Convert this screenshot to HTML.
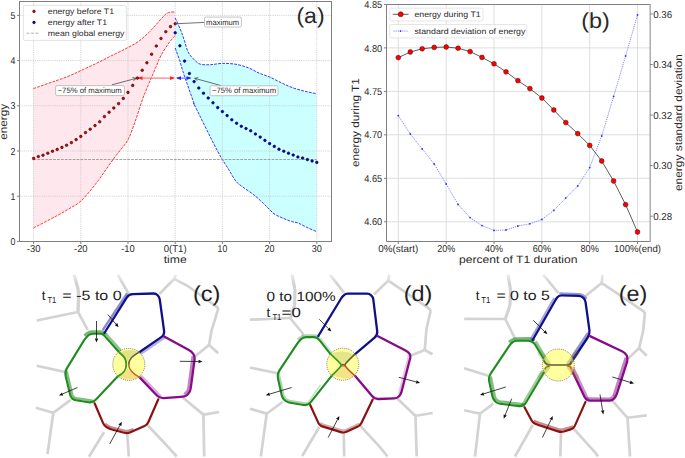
<!DOCTYPE html><html><head><meta charset="utf-8"><style>html,body{margin:0;padding:0;background:#fff;}svg{display:block;font-family:"Liberation Sans", sans-serif;text-rendering:geometricPrecision;}</style></head><body>
<svg width="685" height="458" viewBox="0 0 685 458">
<rect width="685" height="458" fill="#fff"/>
<path d="M33.40,88.60 C36.17,87.63 45.57,84.33 50.00,82.80 C54.43,81.27 56.67,80.60 60.00,79.40 C63.33,78.20 66.67,77.00 70.00,75.60 C73.33,74.20 75.78,72.95 80.00,71.00 C84.22,69.05 90.20,66.37 95.30,63.90 C100.40,61.43 105.50,58.75 110.60,56.20 C115.70,53.65 121.32,51.02 125.90,48.60 C130.48,46.18 134.28,44.38 138.10,41.70 C141.92,39.02 145.73,35.43 148.80,32.50 C151.87,29.57 153.95,26.90 156.50,24.10 C159.05,21.30 162.07,17.62 164.10,15.70 C166.13,13.78 166.85,13.23 168.70,12.60 C170.55,11.97 174.12,12.02 175.20,11.90 L175.20,35.50 C174.12,36.78 171.07,39.87 168.70,43.20 C166.33,46.53 162.95,51.95 161.00,55.50 C159.05,59.05 158.40,61.25 157.00,64.50 C155.60,67.75 154.27,71.08 152.60,75.00 C150.93,78.92 148.72,83.83 147.00,88.00 C145.28,92.17 144.13,94.83 142.30,100.00 C140.47,105.17 137.88,113.50 136.00,119.00 C134.12,124.50 132.55,129.17 131.00,133.00 C129.45,136.83 128.53,139.08 126.70,142.00 C124.87,144.92 122.20,147.67 120.00,150.50 C117.80,153.33 115.83,155.83 113.50,159.00 C111.17,162.17 108.42,166.08 106.00,169.50 C103.58,172.92 101.67,175.92 99.00,179.50 C96.33,183.08 93.20,187.25 90.00,191.00 C86.80,194.75 83.13,199.13 79.80,202.00 C76.47,204.87 73.30,206.20 70.00,208.20 C66.70,210.20 63.33,212.13 60.00,214.00 C56.67,215.87 54.43,217.07 50.00,219.40 C45.57,221.73 36.17,226.57 33.40,228.00 Z" fill="#ffe8ed"/>
<path d="M175.20,18.00 C176.10,20.00 179.10,26.33 180.60,30.00 C182.10,33.67 182.93,36.30 184.20,40.00 C185.47,43.70 186.53,48.92 188.20,52.20 C189.87,55.48 192.18,57.70 194.20,59.70 C196.22,61.70 197.60,63.37 200.30,64.20 C203.00,65.03 206.72,64.83 210.40,64.70 C214.08,64.57 218.13,63.47 222.40,63.40 C226.67,63.33 231.57,63.52 236.00,64.30 C240.43,65.08 245.13,66.62 249.00,68.10 C252.87,69.58 255.80,71.73 259.20,73.20 C262.60,74.67 265.75,75.32 269.40,76.90 C273.05,78.48 277.20,80.88 281.10,82.70 C285.00,84.52 288.67,86.33 292.80,87.80 C296.93,89.27 301.93,90.52 305.90,91.50 C309.87,92.48 314.82,93.33 316.60,93.70 L316.60,231.60 C314.83,230.83 309.10,228.43 306.00,227.00 C302.90,225.57 300.67,224.00 298.00,223.00 C295.33,222.00 293.67,222.33 290.00,221.00 C286.33,219.67 279.33,216.83 276.00,215.00 C272.67,213.17 272.00,211.83 270.00,210.00 C268.00,208.17 266.67,206.50 264.00,204.00 C261.33,201.50 258.00,198.17 254.00,195.00 C250.00,191.83 243.17,187.50 240.00,185.00 C236.83,182.50 236.83,182.50 235.00,180.00 C233.17,177.50 232.00,175.00 229.00,170.00 C226.00,165.00 222.67,160.67 217.00,150.00 C211.33,139.33 198.83,113.78 195.00,106.00 C191.17,98.22 195.80,108.42 194.00,103.30 C192.20,98.18 186.37,81.68 184.20,75.30 C182.03,68.92 181.77,67.52 181.00,65.00 C180.23,62.48 180.57,63.03 179.60,60.20 C178.63,57.37 175.93,50.03 175.20,48.00 Z" fill="#ccffff"/>
<line x1="33.6" y1="1.5" x2="33.6" y2="241.5" stroke="#c4c4c4" stroke-width="0.8" stroke-dasharray="1.1,1.1"/>
<line x1="80.8" y1="1.5" x2="80.8" y2="241.5" stroke="#c4c4c4" stroke-width="0.8" stroke-dasharray="1.1,1.1"/>
<line x1="128.0" y1="1.5" x2="128.0" y2="241.5" stroke="#c4c4c4" stroke-width="0.8" stroke-dasharray="1.1,1.1"/>
<line x1="175.2" y1="1.5" x2="175.2" y2="241.5" stroke="#c4c4c4" stroke-width="0.8" stroke-dasharray="1.1,1.1"/>
<line x1="222.4" y1="1.5" x2="222.4" y2="241.5" stroke="#c4c4c4" stroke-width="0.8" stroke-dasharray="1.1,1.1"/>
<line x1="269.6" y1="1.5" x2="269.6" y2="241.5" stroke="#c4c4c4" stroke-width="0.8" stroke-dasharray="1.1,1.1"/>
<line x1="316.8" y1="1.5" x2="316.8" y2="241.5" stroke="#c4c4c4" stroke-width="0.8" stroke-dasharray="1.1,1.1"/>
<line x1="19.5" y1="196.2" x2="331.5" y2="196.2" stroke="#c4c4c4" stroke-width="0.8" stroke-dasharray="1.1,1.1"/>
<line x1="19.5" y1="151.0" x2="331.5" y2="151.0" stroke="#c4c4c4" stroke-width="0.8" stroke-dasharray="1.1,1.1"/>
<line x1="19.5" y1="105.8" x2="331.5" y2="105.8" stroke="#c4c4c4" stroke-width="0.8" stroke-dasharray="1.1,1.1"/>
<line x1="19.5" y1="60.6" x2="331.5" y2="60.6" stroke="#c4c4c4" stroke-width="0.8" stroke-dasharray="1.1,1.1"/>
<line x1="19.5" y1="15.4" x2="331.5" y2="15.4" stroke="#c4c4c4" stroke-width="0.8" stroke-dasharray="1.1,1.1"/>
<path d="M33.40,88.60 C36.17,87.63 45.57,84.33 50.00,82.80 C54.43,81.27 56.67,80.60 60.00,79.40 C63.33,78.20 66.67,77.00 70.00,75.60 C73.33,74.20 75.78,72.95 80.00,71.00 C84.22,69.05 90.20,66.37 95.30,63.90 C100.40,61.43 105.50,58.75 110.60,56.20 C115.70,53.65 121.32,51.02 125.90,48.60 C130.48,46.18 134.28,44.38 138.10,41.70 C141.92,39.02 145.73,35.43 148.80,32.50 C151.87,29.57 153.95,26.90 156.50,24.10 C159.05,21.30 162.07,17.62 164.10,15.70 C166.13,13.78 166.85,13.23 168.70,12.60 C170.55,11.97 174.12,12.02 175.20,11.90" fill="none" stroke="#ff2020" stroke-width="0.9" stroke-dasharray="2.8,1.2"/>
<path d="M33.40,228.00 C36.17,226.57 45.57,221.73 50.00,219.40 C54.43,217.07 56.67,215.87 60.00,214.00 C63.33,212.13 66.70,210.20 70.00,208.20 C73.30,206.20 76.47,204.87 79.80,202.00 C83.13,199.13 86.80,194.75 90.00,191.00 C93.20,187.25 96.33,183.08 99.00,179.50 C101.67,175.92 103.58,172.92 106.00,169.50 C108.42,166.08 111.17,162.17 113.50,159.00 C115.83,155.83 117.80,153.33 120.00,150.50 C122.20,147.67 124.87,144.92 126.70,142.00 C128.53,139.08 129.45,136.83 131.00,133.00 C132.55,129.17 134.12,124.50 136.00,119.00 C137.88,113.50 140.47,105.17 142.30,100.00 C144.13,94.83 145.28,92.17 147.00,88.00 C148.72,83.83 150.93,78.92 152.60,75.00 C154.27,71.08 155.60,67.75 157.00,64.50 C158.40,61.25 159.05,59.05 161.00,55.50 C162.95,51.95 166.33,46.53 168.70,43.20 C171.07,39.87 174.12,36.78 175.20,35.50" fill="none" stroke="#ff2020" stroke-width="0.9" stroke-dasharray="2.8,1.2"/>
<path d="M175.20,18.00 C176.10,20.00 179.10,26.33 180.60,30.00 C182.10,33.67 182.93,36.30 184.20,40.00 C185.47,43.70 186.53,48.92 188.20,52.20 C189.87,55.48 192.18,57.70 194.20,59.70 C196.22,61.70 197.60,63.37 200.30,64.20 C203.00,65.03 206.72,64.83 210.40,64.70 C214.08,64.57 218.13,63.47 222.40,63.40 C226.67,63.33 231.57,63.52 236.00,64.30 C240.43,65.08 245.13,66.62 249.00,68.10 C252.87,69.58 255.80,71.73 259.20,73.20 C262.60,74.67 265.75,75.32 269.40,76.90 C273.05,78.48 277.20,80.88 281.10,82.70 C285.00,84.52 288.67,86.33 292.80,87.80 C296.93,89.27 301.93,90.52 305.90,91.50 C309.87,92.48 314.82,93.33 316.60,93.70" fill="none" stroke="#2020ff" stroke-width="0.9" stroke-dasharray="2.8,1.2"/>
<path d="M175.20,48.00 C175.93,50.03 178.63,57.37 179.60,60.20 C180.57,63.03 180.23,62.48 181.00,65.00 C181.77,67.52 182.03,68.92 184.20,75.30 C186.37,81.68 192.20,98.18 194.00,103.30 C195.80,108.42 191.17,98.22 195.00,106.00 C198.83,113.78 211.33,139.33 217.00,150.00 C222.67,160.67 226.00,165.00 229.00,170.00 C232.00,175.00 233.17,177.50 235.00,180.00 C236.83,182.50 236.83,182.50 240.00,185.00 C243.17,187.50 250.00,191.83 254.00,195.00 C258.00,198.17 261.33,201.50 264.00,204.00 C266.67,206.50 268.00,208.17 270.00,210.00 C272.00,211.83 272.67,213.17 276.00,215.00 C279.33,216.83 286.33,219.67 290.00,221.00 C293.67,222.33 295.33,222.00 298.00,223.00 C300.67,224.00 302.90,225.57 306.00,227.00 C309.10,228.43 314.83,230.83 316.60,231.60" fill="none" stroke="#2020ff" stroke-width="0.9" stroke-dasharray="2.8,1.2"/>
<line x1="33.6" y1="159.5" x2="316.8" y2="159.5" stroke="#999" stroke-width="0.9" stroke-dasharray="2.8,1.1"/>
<line x1="139" y1="78.1" x2="174" y2="78.1" stroke="#ff8080" stroke-width="1.3"/>
<polygon points="137.6,78.1 142.5,76.3 142.5,79.9" fill="#ff2020"/>
<polygon points="175,78.1 170,76.3 170,79.9" fill="#ff2020"/>
<line x1="177" y1="78.1" x2="190.5" y2="78.1" stroke="#8080ff" stroke-width="1.3"/>
<polygon points="176,78.1 181,76.3 181,79.9" fill="#2020ff"/>
<polygon points="191.5,78.1 186.5,76.3 186.5,79.9" fill="#2020ff"/>
<circle cx="33.6" cy="158.4" r="1.3" fill="#e00000" stroke="#200" stroke-width="0.6"/>
<circle cx="38.3" cy="156.6" r="1.3" fill="#e00000" stroke="#200" stroke-width="0.6"/>
<circle cx="43.0" cy="155.2" r="1.3" fill="#e00000" stroke="#200" stroke-width="0.6"/>
<circle cx="47.8" cy="153.2" r="1.3" fill="#e00000" stroke="#200" stroke-width="0.6"/>
<circle cx="52.5" cy="151.2" r="1.3" fill="#e00000" stroke="#200" stroke-width="0.6"/>
<circle cx="57.2" cy="149.4" r="1.3" fill="#e00000" stroke="#200" stroke-width="0.6"/>
<circle cx="61.9" cy="147.4" r="1.3" fill="#e00000" stroke="#200" stroke-width="0.6"/>
<circle cx="66.6" cy="145.2" r="1.3" fill="#e00000" stroke="#200" stroke-width="0.6"/>
<circle cx="71.4" cy="142.6" r="1.3" fill="#e00000" stroke="#200" stroke-width="0.6"/>
<circle cx="76.1" cy="139.6" r="1.3" fill="#e00000" stroke="#200" stroke-width="0.6"/>
<circle cx="80.8" cy="136.4" r="1.3" fill="#e00000" stroke="#200" stroke-width="0.6"/>
<circle cx="85.5" cy="132.6" r="1.3" fill="#e00000" stroke="#200" stroke-width="0.6"/>
<circle cx="90.2" cy="129.2" r="1.3" fill="#e00000" stroke="#200" stroke-width="0.6"/>
<circle cx="95.0" cy="125.6" r="1.3" fill="#e00000" stroke="#200" stroke-width="0.6"/>
<circle cx="99.7" cy="121.8" r="1.3" fill="#e00000" stroke="#200" stroke-width="0.6"/>
<circle cx="104.4" cy="116.6" r="1.3" fill="#e00000" stroke="#200" stroke-width="0.6"/>
<circle cx="109.1" cy="112.2" r="1.3" fill="#e00000" stroke="#200" stroke-width="0.6"/>
<circle cx="113.8" cy="108" r="1.3" fill="#e00000" stroke="#200" stroke-width="0.6"/>
<circle cx="118.6" cy="103.6" r="1.3" fill="#e00000" stroke="#200" stroke-width="0.6"/>
<circle cx="123.3" cy="98.4" r="1.3" fill="#e00000" stroke="#200" stroke-width="0.6"/>
<circle cx="128.0" cy="92.4" r="1.3" fill="#e00000" stroke="#200" stroke-width="0.6"/>
<circle cx="132.7" cy="85.4" r="1.3" fill="#e00000" stroke="#200" stroke-width="0.6"/>
<circle cx="137.4" cy="78.1" r="1.3" fill="#e00000" stroke="#200" stroke-width="0.6"/>
<circle cx="142.2" cy="70.3" r="1.3" fill="#e00000" stroke="#200" stroke-width="0.6"/>
<circle cx="146.9" cy="62.8" r="1.3" fill="#e00000" stroke="#200" stroke-width="0.6"/>
<circle cx="151.6" cy="54.2" r="1.3" fill="#e00000" stroke="#200" stroke-width="0.6"/>
<circle cx="156.3" cy="46" r="1.3" fill="#e00000" stroke="#200" stroke-width="0.6"/>
<circle cx="161.0" cy="38.5" r="1.3" fill="#e00000" stroke="#200" stroke-width="0.6"/>
<circle cx="165.8" cy="31.7" r="1.3" fill="#e00000" stroke="#200" stroke-width="0.6"/>
<circle cx="170.5" cy="26.6" r="1.3" fill="#e00000" stroke="#200" stroke-width="0.6"/>
<circle cx="175.2" cy="23.8" r="1.3" fill="#e00000" stroke="#200" stroke-width="0.6"/>
<circle cx="175.2" cy="32.8" r="1.3" fill="#0000e0" stroke="#002" stroke-width="0.6"/>
<circle cx="179.9" cy="45.8" r="1.3" fill="#0000e0" stroke="#002" stroke-width="0.6"/>
<circle cx="184.6" cy="61.1" r="1.3" fill="#0000e0" stroke="#002" stroke-width="0.6"/>
<circle cx="189.4" cy="73.5" r="1.3" fill="#0000e0" stroke="#002" stroke-width="0.6"/>
<circle cx="194.1" cy="81.6" r="1.3" fill="#0000e0" stroke="#002" stroke-width="0.6"/>
<circle cx="198.8" cy="88" r="1.3" fill="#0000e0" stroke="#002" stroke-width="0.6"/>
<circle cx="203.5" cy="93.2" r="1.3" fill="#0000e0" stroke="#002" stroke-width="0.6"/>
<circle cx="208.2" cy="98" r="1.3" fill="#0000e0" stroke="#002" stroke-width="0.6"/>
<circle cx="213.0" cy="102.8" r="1.3" fill="#0000e0" stroke="#002" stroke-width="0.6"/>
<circle cx="217.7" cy="107.6" r="1.3" fill="#0000e0" stroke="#002" stroke-width="0.6"/>
<circle cx="222.4" cy="111.6" r="1.3" fill="#0000e0" stroke="#002" stroke-width="0.6"/>
<circle cx="227.1" cy="115.6" r="1.3" fill="#0000e0" stroke="#002" stroke-width="0.6"/>
<circle cx="231.8" cy="119.8" r="1.3" fill="#0000e0" stroke="#002" stroke-width="0.6"/>
<circle cx="236.6" cy="123.2" r="1.3" fill="#0000e0" stroke="#002" stroke-width="0.6"/>
<circle cx="241.3" cy="126.3" r="1.3" fill="#0000e0" stroke="#002" stroke-width="0.6"/>
<circle cx="246.0" cy="128.5" r="1.3" fill="#0000e0" stroke="#002" stroke-width="0.6"/>
<circle cx="250.7" cy="130.8" r="1.3" fill="#0000e0" stroke="#002" stroke-width="0.6"/>
<circle cx="255.4" cy="134" r="1.3" fill="#0000e0" stroke="#002" stroke-width="0.6"/>
<circle cx="260.2" cy="137.1" r="1.3" fill="#0000e0" stroke="#002" stroke-width="0.6"/>
<circle cx="264.9" cy="140.4" r="1.3" fill="#0000e0" stroke="#002" stroke-width="0.6"/>
<circle cx="269.6" cy="143.6" r="1.3" fill="#0000e0" stroke="#002" stroke-width="0.6"/>
<circle cx="274.3" cy="146.4" r="1.3" fill="#0000e0" stroke="#002" stroke-width="0.6"/>
<circle cx="279.0" cy="149.2" r="1.3" fill="#0000e0" stroke="#002" stroke-width="0.6"/>
<circle cx="283.8" cy="151.2" r="1.3" fill="#0000e0" stroke="#002" stroke-width="0.6"/>
<circle cx="288.5" cy="153.2" r="1.3" fill="#0000e0" stroke="#002" stroke-width="0.6"/>
<circle cx="293.2" cy="155" r="1.3" fill="#0000e0" stroke="#002" stroke-width="0.6"/>
<circle cx="297.9" cy="157" r="1.3" fill="#0000e0" stroke="#002" stroke-width="0.6"/>
<circle cx="302.6" cy="158" r="1.3" fill="#0000e0" stroke="#002" stroke-width="0.6"/>
<circle cx="307.4" cy="159.6" r="1.3" fill="#0000e0" stroke="#002" stroke-width="0.6"/>
<circle cx="312.1" cy="161" r="1.3" fill="#0000e0" stroke="#002" stroke-width="0.6"/>
<circle cx="316.8" cy="162.4" r="1.3" fill="#0000e0" stroke="#002" stroke-width="0.6"/>
<rect x="19.5" y="1.5" width="312.0" height="240.0" fill="none" stroke="#808080" stroke-width="1"/>
<line x1="33.6" y1="241.5" x2="33.6" y2="244.0" stroke="#808080" stroke-width="1"/>
<line x1="80.8" y1="241.5" x2="80.8" y2="244.0" stroke="#808080" stroke-width="1"/>
<line x1="128.0" y1="241.5" x2="128.0" y2="244.0" stroke="#808080" stroke-width="1"/>
<line x1="175.2" y1="241.5" x2="175.2" y2="244.0" stroke="#808080" stroke-width="1"/>
<line x1="222.4" y1="241.5" x2="222.4" y2="244.0" stroke="#808080" stroke-width="1"/>
<line x1="269.6" y1="241.5" x2="269.6" y2="244.0" stroke="#808080" stroke-width="1"/>
<line x1="316.8" y1="241.5" x2="316.8" y2="244.0" stroke="#808080" stroke-width="1"/>
<line x1="17.0" y1="241.4" x2="19.5" y2="241.4" stroke="#808080" stroke-width="1"/>
<line x1="17.0" y1="196.2" x2="19.5" y2="196.2" stroke="#808080" stroke-width="1"/>
<line x1="17.0" y1="151.0" x2="19.5" y2="151.0" stroke="#808080" stroke-width="1"/>
<line x1="17.0" y1="105.8" x2="19.5" y2="105.8" stroke="#808080" stroke-width="1"/>
<line x1="17.0" y1="60.6" x2="19.5" y2="60.6" stroke="#808080" stroke-width="1"/>
<line x1="17.0" y1="15.4" x2="19.5" y2="15.4" stroke="#808080" stroke-width="1"/>
<text x="33.6" y="251.6" font-size="10.0" text-anchor="middle" fill="#2a2a2a" textLength="13.6" lengthAdjust="spacingAndGlyphs" >-30</text>
<text x="80.8" y="251.6" font-size="10.0" text-anchor="middle" fill="#2a2a2a" textLength="13.6" lengthAdjust="spacingAndGlyphs" >-20</text>
<text x="128.0" y="251.6" font-size="10.0" text-anchor="middle" fill="#2a2a2a" textLength="13.6" lengthAdjust="spacingAndGlyphs" >-10</text>
<text x="175.2" y="251.6" font-size="10.0" text-anchor="middle" fill="#2a2a2a" textLength="22.8" lengthAdjust="spacingAndGlyphs" >0(T1)</text>
<text x="222.4" y="251.6" font-size="10.0" text-anchor="middle" fill="#2a2a2a" textLength="9.6" lengthAdjust="spacingAndGlyphs" >10</text>
<text x="269.6" y="251.6" font-size="10.0" text-anchor="middle" fill="#2a2a2a" textLength="10" lengthAdjust="spacingAndGlyphs" >20</text>
<text x="316.8" y="251.6" font-size="10.0" text-anchor="middle" fill="#2a2a2a" textLength="10.2" lengthAdjust="spacingAndGlyphs" >30</text>
<text x="15.4" y="245.0" font-size="10.0" text-anchor="end" fill="#2a2a2a" textLength="4.9" lengthAdjust="spacingAndGlyphs" >0</text>
<text x="15.4" y="199.8" font-size="10.0" text-anchor="end" fill="#2a2a2a" textLength="4.9" lengthAdjust="spacingAndGlyphs" >1</text>
<text x="15.4" y="154.6" font-size="10.0" text-anchor="end" fill="#2a2a2a" textLength="4.9" lengthAdjust="spacingAndGlyphs" >2</text>
<text x="15.4" y="109.4" font-size="10.0" text-anchor="end" fill="#2a2a2a" textLength="4.9" lengthAdjust="spacingAndGlyphs" >3</text>
<text x="15.4" y="64.2" font-size="10.0" text-anchor="end" fill="#2a2a2a" textLength="4.9" lengthAdjust="spacingAndGlyphs" >4</text>
<text x="15.4" y="19.0" font-size="10.0" text-anchor="end" fill="#2a2a2a" textLength="4.9" lengthAdjust="spacingAndGlyphs" >5</text>
<text x="175.2" y="263.2" font-size="10.5" text-anchor="middle" fill="#2a2a2a" textLength="23" lengthAdjust="spacingAndGlyphs" >time</text>
<text transform="translate(7,121.8) rotate(-90)" font-size="10.5" text-anchor="middle" fill="#2a2a2a" textLength="36" lengthAdjust="spacingAndGlyphs">energy</text>
<rect x="23.4" y="5.4" width="103" height="35" rx="1.5" fill="#fff" fill-opacity="0.8" stroke="#dcdcdc" stroke-width="0.8"/>
<circle cx="34" cy="11.4" r="1.35" fill="#d00000" stroke="#200" stroke-width="0.5"/>
<circle cx="34" cy="22.4" r="1.35" fill="#0000d0" stroke="#002" stroke-width="0.5"/>
<line x1="26.4" y1="33.2" x2="40" y2="33.2" stroke="#a0a0a0" stroke-width="0.8" stroke-dasharray="3,1.5"/>
<text x="47.8" y="14.4" font-size="7.9" text-anchor="start" fill="#2a2a2a" textLength="66.2" lengthAdjust="spacingAndGlyphs" >energy before T1</text>
<text x="47.8" y="25.4" font-size="7.9" text-anchor="start" fill="#2a2a2a" textLength="59.3" lengthAdjust="spacingAndGlyphs" >energy after T1</text>
<text x="47.8" y="36.3" font-size="7.9" text-anchor="start" fill="#2a2a2a" textLength="76.6" lengthAdjust="spacingAndGlyphs" >mean global energy</text>
<line x1="177.3" y1="23.7" x2="204.5" y2="22.4" stroke="#333" stroke-width="0.7"/>
<rect x="204.5" y="17.1" width="36.9" height="9.9" rx="1.5" fill="#fff" stroke="#aaa" stroke-width="0.7"/>
<text x="222.6" y="24.6" font-size="7.8" text-anchor="middle" fill="#2a2a2a" textLength="33" lengthAdjust="spacingAndGlyphs" >maximum</text>
<line x1="111.9" y1="84.8" x2="136" y2="78.4" stroke="#333" stroke-width="0.7"/>
<path d="M132.5,77.6 L136.6,78.3 L133.4,80.6" fill="none" stroke="#333" stroke-width="0.7"/>
<rect x="55.6" y="85.6" width="68.8" height="10" rx="1.5" fill="#fff" stroke="#aaa" stroke-width="0.7"/>
<text x="89.7" y="92.9" font-size="7.8" text-anchor="middle" fill="#2a2a2a" textLength="64.2" lengthAdjust="spacingAndGlyphs" >~75% of maximum</text>
<line x1="195" y1="78.4" x2="221" y2="85.6" stroke="#333" stroke-width="0.7"/>
<path d="M198.3,77.7 L194.6,78.3 L197.4,80.6" fill="none" stroke="#333" stroke-width="0.7"/>
<rect x="210" y="85.8" width="68" height="9.9" rx="1.5" fill="#fff" stroke="#aaa" stroke-width="0.7"/>
<text x="244" y="93.1" font-size="7.8" text-anchor="middle" fill="#2a2a2a" textLength="64.2" lengthAdjust="spacingAndGlyphs" >~75% of maximum</text>
<text x="296.4" y="22.6" font-size="21.6" text-anchor="start" fill="#2a2a2a" textLength="28.2" lengthAdjust="spacingAndGlyphs" >(a)</text>
<line x1="398.3" y1="4.5" x2="398.3" y2="241.5" stroke="#dadada" stroke-width="0.9"/>
<line x1="446.2" y1="4.5" x2="446.2" y2="241.5" stroke="#dadada" stroke-width="0.9"/>
<line x1="494.0" y1="4.5" x2="494.0" y2="241.5" stroke="#dadada" stroke-width="0.9"/>
<line x1="541.9" y1="4.5" x2="541.9" y2="241.5" stroke="#dadada" stroke-width="0.9"/>
<line x1="589.7" y1="4.5" x2="589.7" y2="241.5" stroke="#dadada" stroke-width="0.9"/>
<line x1="637.5" y1="4.5" x2="637.5" y2="241.5" stroke="#dadada" stroke-width="0.9"/>
<line x1="386.5" y1="47.9" x2="650.2" y2="47.9" stroke="#dadada" stroke-width="0.9"/>
<line x1="386.5" y1="91.4" x2="650.2" y2="91.4" stroke="#dadada" stroke-width="0.9"/>
<line x1="386.5" y1="134.8" x2="650.2" y2="134.8" stroke="#dadada" stroke-width="0.9"/>
<line x1="386.5" y1="178.3" x2="650.2" y2="178.3" stroke="#dadada" stroke-width="0.9"/>
<line x1="386.5" y1="221.8" x2="650.2" y2="221.8" stroke="#dadada" stroke-width="0.9"/>
<polyline points="398.3,115.6 410.3,134.0 422.2,149.0 434.2,164.0 446.2,184.0 458.1,204.4 470.1,217.6 482.0,225.6 494.0,230.4 506.0,230.0 517.9,226.0 529.9,223.8 541.9,219.4 553.8,210.4 565.8,198.0 577.7,186.0 589.7,167.6 601.7,136.0 613.6,96.5 625.6,56.0 637.5,15.0" fill="none" stroke="#5050ff" stroke-width="0.7" stroke-dasharray="1.2,1"/>
<circle cx="398.3" cy="115.6" r="0.9" fill="#3030ff"/>
<circle cx="410.3" cy="134" r="0.9" fill="#3030ff"/>
<circle cx="422.2" cy="149" r="0.9" fill="#3030ff"/>
<circle cx="434.2" cy="164" r="0.9" fill="#3030ff"/>
<circle cx="446.2" cy="184" r="0.9" fill="#3030ff"/>
<circle cx="458.1" cy="204.4" r="0.9" fill="#3030ff"/>
<circle cx="470.1" cy="217.6" r="0.9" fill="#3030ff"/>
<circle cx="482.0" cy="225.6" r="0.9" fill="#3030ff"/>
<circle cx="494.0" cy="230.4" r="0.9" fill="#3030ff"/>
<circle cx="506.0" cy="230" r="0.9" fill="#3030ff"/>
<circle cx="517.9" cy="226" r="0.9" fill="#3030ff"/>
<circle cx="529.9" cy="223.8" r="0.9" fill="#3030ff"/>
<circle cx="541.9" cy="219.4" r="0.9" fill="#3030ff"/>
<circle cx="553.8" cy="210.4" r="0.9" fill="#3030ff"/>
<circle cx="565.8" cy="198" r="0.9" fill="#3030ff"/>
<circle cx="577.7" cy="186" r="0.9" fill="#3030ff"/>
<circle cx="589.7" cy="167.6" r="0.9" fill="#3030ff"/>
<circle cx="601.7" cy="136" r="0.9" fill="#3030ff"/>
<circle cx="613.6" cy="96.5" r="0.9" fill="#3030ff"/>
<circle cx="625.6" cy="56" r="0.9" fill="#3030ff"/>
<circle cx="637.5" cy="15" r="0.9" fill="#3030ff"/>
<polyline points="398.3,57.6 410.3,52.0 422.2,48.8 434.2,47.4 446.2,47.0 458.1,48.2 470.1,51.6 482.0,57.4 494.0,63.8 506.0,71.8 517.9,80.7 529.9,88.6 541.9,98.0 553.8,110.0 565.8,122.6 577.7,133.6 589.7,145.4 601.7,161.0 613.6,181.0 625.6,204.6 637.5,232.0" fill="none" stroke="#333" stroke-width="0.8"/>
<circle cx="398.3" cy="57.6" r="2.4" fill="#ff0000" stroke="#400" stroke-width="0.5"/>
<circle cx="410.3" cy="52" r="2.4" fill="#ff0000" stroke="#400" stroke-width="0.5"/>
<circle cx="422.2" cy="48.8" r="2.4" fill="#ff0000" stroke="#400" stroke-width="0.5"/>
<circle cx="434.2" cy="47.4" r="2.4" fill="#ff0000" stroke="#400" stroke-width="0.5"/>
<circle cx="446.2" cy="47" r="2.4" fill="#ff0000" stroke="#400" stroke-width="0.5"/>
<circle cx="458.1" cy="48.2" r="2.4" fill="#ff0000" stroke="#400" stroke-width="0.5"/>
<circle cx="470.1" cy="51.6" r="2.4" fill="#ff0000" stroke="#400" stroke-width="0.5"/>
<circle cx="482.0" cy="57.4" r="2.4" fill="#ff0000" stroke="#400" stroke-width="0.5"/>
<circle cx="494.0" cy="63.8" r="2.4" fill="#ff0000" stroke="#400" stroke-width="0.5"/>
<circle cx="506.0" cy="71.8" r="2.4" fill="#ff0000" stroke="#400" stroke-width="0.5"/>
<circle cx="517.9" cy="80.7" r="2.4" fill="#ff0000" stroke="#400" stroke-width="0.5"/>
<circle cx="529.9" cy="88.6" r="2.4" fill="#ff0000" stroke="#400" stroke-width="0.5"/>
<circle cx="541.9" cy="98" r="2.4" fill="#ff0000" stroke="#400" stroke-width="0.5"/>
<circle cx="553.8" cy="110" r="2.4" fill="#ff0000" stroke="#400" stroke-width="0.5"/>
<circle cx="565.8" cy="122.6" r="2.4" fill="#ff0000" stroke="#400" stroke-width="0.5"/>
<circle cx="577.7" cy="133.6" r="2.4" fill="#ff0000" stroke="#400" stroke-width="0.5"/>
<circle cx="589.7" cy="145.4" r="2.4" fill="#ff0000" stroke="#400" stroke-width="0.5"/>
<circle cx="601.7" cy="161" r="2.4" fill="#ff0000" stroke="#400" stroke-width="0.5"/>
<circle cx="613.6" cy="181" r="2.4" fill="#ff0000" stroke="#400" stroke-width="0.5"/>
<circle cx="625.6" cy="204.6" r="2.4" fill="#ff0000" stroke="#400" stroke-width="0.5"/>
<circle cx="637.5" cy="232" r="2.4" fill="#ff0000" stroke="#400" stroke-width="0.5"/>
<path d="M650.2,4.5 H386.5 V241.5 H650.2" fill="none" stroke="#808080" stroke-width="1"/>
<line x1="650.2" y1="4.0" x2="650.2" y2="242.0" stroke="#a8a8a8" stroke-width="1.4"/>
<line x1="398.3" y1="241.5" x2="398.3" y2="244.0" stroke="#808080" stroke-width="1"/>
<line x1="446.2" y1="241.5" x2="446.2" y2="244.0" stroke="#808080" stroke-width="1"/>
<line x1="494.0" y1="241.5" x2="494.0" y2="244.0" stroke="#808080" stroke-width="1"/>
<line x1="541.9" y1="241.5" x2="541.9" y2="244.0" stroke="#808080" stroke-width="1"/>
<line x1="589.7" y1="241.5" x2="589.7" y2="244.0" stroke="#808080" stroke-width="1"/>
<line x1="637.5" y1="241.5" x2="637.5" y2="244.0" stroke="#808080" stroke-width="1"/>
<line x1="384.0" y1="4.5" x2="386.5" y2="4.5" stroke="#808080" stroke-width="1"/>
<text x="382.2" y="8.1" font-size="10.0" text-anchor="end" fill="#2a2a2a" textLength="18" lengthAdjust="spacingAndGlyphs" >4.85</text>
<line x1="384.0" y1="47.9" x2="386.5" y2="47.9" stroke="#808080" stroke-width="1"/>
<text x="382.2" y="51.5" font-size="10.0" text-anchor="end" fill="#2a2a2a" textLength="18" lengthAdjust="spacingAndGlyphs" >4.80</text>
<line x1="384.0" y1="91.4" x2="386.5" y2="91.4" stroke="#808080" stroke-width="1"/>
<text x="382.2" y="95.0" font-size="10.0" text-anchor="end" fill="#2a2a2a" textLength="18" lengthAdjust="spacingAndGlyphs" >4.75</text>
<line x1="384.0" y1="134.8" x2="386.5" y2="134.8" stroke="#808080" stroke-width="1"/>
<text x="382.2" y="138.4" font-size="10.0" text-anchor="end" fill="#2a2a2a" textLength="18" lengthAdjust="spacingAndGlyphs" >4.70</text>
<line x1="384.0" y1="178.3" x2="386.5" y2="178.3" stroke="#808080" stroke-width="1"/>
<text x="382.2" y="181.9" font-size="10.0" text-anchor="end" fill="#2a2a2a" textLength="18" lengthAdjust="spacingAndGlyphs" >4.65</text>
<line x1="384.0" y1="221.8" x2="386.5" y2="221.8" stroke="#808080" stroke-width="1"/>
<text x="382.2" y="225.3" font-size="10.0" text-anchor="end" fill="#2a2a2a" textLength="18" lengthAdjust="spacingAndGlyphs" >4.60</text>
<line x1="650.2" y1="14.0" x2="652.7" y2="14.0" stroke="#808080" stroke-width="1"/>
<text x="653.2" y="17.6" font-size="10.0" text-anchor="start" fill="#2a2a2a" textLength="19" lengthAdjust="spacingAndGlyphs" >0.36</text>
<line x1="650.2" y1="64.5" x2="652.7" y2="64.5" stroke="#808080" stroke-width="1"/>
<text x="653.2" y="68.1" font-size="10.0" text-anchor="start" fill="#2a2a2a" textLength="19" lengthAdjust="spacingAndGlyphs" >0.34</text>
<line x1="650.2" y1="115.1" x2="652.7" y2="115.1" stroke="#808080" stroke-width="1"/>
<text x="653.2" y="118.7" font-size="10.0" text-anchor="start" fill="#2a2a2a" textLength="19" lengthAdjust="spacingAndGlyphs" >0.32</text>
<line x1="650.2" y1="165.6" x2="652.7" y2="165.6" stroke="#808080" stroke-width="1"/>
<text x="653.2" y="169.2" font-size="10.0" text-anchor="start" fill="#2a2a2a" textLength="19" lengthAdjust="spacingAndGlyphs" >0.30</text>
<line x1="650.2" y1="216.2" x2="652.7" y2="216.2" stroke="#808080" stroke-width="1"/>
<text x="653.2" y="219.8" font-size="10.0" text-anchor="start" fill="#2a2a2a" textLength="19" lengthAdjust="spacingAndGlyphs" >0.28</text>
<text x="398.3" y="251.6" font-size="10.0" text-anchor="middle" fill="#2a2a2a" textLength="40" lengthAdjust="spacingAndGlyphs" >0%(start)</text>
<text x="446.2" y="251.6" font-size="10.0" text-anchor="middle" fill="#2a2a2a" textLength="18" lengthAdjust="spacingAndGlyphs" >20%</text>
<text x="494.0" y="251.6" font-size="10.0" text-anchor="middle" fill="#2a2a2a" textLength="18" lengthAdjust="spacingAndGlyphs" >40%</text>
<text x="541.9" y="251.6" font-size="10.0" text-anchor="middle" fill="#2a2a2a" textLength="18.4" lengthAdjust="spacingAndGlyphs" >60%</text>
<text x="589.7" y="251.6" font-size="10.0" text-anchor="middle" fill="#2a2a2a" textLength="18.4" lengthAdjust="spacingAndGlyphs" >80%</text>
<text x="637.5" y="251.6" font-size="10.0" text-anchor="middle" fill="#2a2a2a" textLength="47" lengthAdjust="spacingAndGlyphs" >100%(end)</text>
<text x="518.2" y="263.1" font-size="10.5" text-anchor="middle" fill="#2a2a2a" textLength="118.6" lengthAdjust="spacingAndGlyphs" >percent of T1 duration</text>
<text transform="translate(359.2,122.6) rotate(-90)" font-size="10.5" text-anchor="middle" fill="#2a2a2a" textLength="89" lengthAdjust="spacingAndGlyphs">energy during T1</text>
<text transform="translate(682.3,122.5) rotate(-90)" font-size="10.5" text-anchor="middle" fill="#2a2a2a" textLength="137" lengthAdjust="spacingAndGlyphs">energy standard deviation</text>
<rect x="389.8" y="8.2" width="93.2" height="12.7" rx="1.5" fill="#fff" fill-opacity="0.8" stroke="#e0e0e0" stroke-width="0.8"/>
<line x1="392.8" y1="14.3" x2="408.6" y2="14.3" stroke="#333" stroke-width="0.8"/>
<circle cx="400.7" cy="14.3" r="2.5" fill="#ff0000" stroke="#400" stroke-width="0.5"/>
<text x="414.4" y="16.8" font-size="7.9" text-anchor="start" fill="#2a2a2a" textLength="66.3" lengthAdjust="spacingAndGlyphs" >energy during T1</text>
<rect x="389.8" y="24.5" width="137" height="13.4" rx="1.5" fill="#fff" fill-opacity="0.8" stroke="#e0e0e0" stroke-width="0.8"/>
<line x1="393.4" y1="31.1" x2="407.6" y2="31.1" stroke="#5050ff" stroke-width="0.7" stroke-dasharray="1.2,1"/>
<circle cx="400.5" cy="31.1" r="0.9" fill="#3030ff"/>
<text x="414.4" y="33.7" font-size="7.9" text-anchor="start" fill="#2a2a2a" textLength="111" lengthAdjust="spacingAndGlyphs" >standard deviation of energy</text>
<text x="581.2" y="27.9" font-size="21.6" text-anchor="start" fill="#2a2a2a" textLength="28.6" lengthAdjust="spacingAndGlyphs" >(b)</text>
<path d="M74.0,274.5 L77.8,288.1 Q78.3,290.0 78.3,292.0 L78.5,298.0 Q78.5,300.0 78.4,302.0 L78.0,312.0" fill="none" stroke="#d3d3d3" stroke-width="3.4" stroke-linejoin="round" stroke-linecap="butt"/>
<path d="M78.0,312.0 L36.7,320.5" fill="none" stroke="#d3d3d3" stroke-width="2.7" stroke-linejoin="round" stroke-linecap="butt"/>
<path d="M78.0,312.0 L87.7,329.8" fill="none" stroke="#d3d3d3" stroke-width="2.7" stroke-linejoin="round" stroke-linecap="butt"/>
<path d="M123.0,284.0 L128.8,294.0" fill="none" stroke="#d3d3d3" stroke-width="2.7" stroke-linejoin="round" stroke-linecap="butt"/>
<path d="M118.0,274.7 L123.0,284.0" fill="none" stroke="#d3d3d3" stroke-width="2.7" stroke-linejoin="round" stroke-linecap="butt"/>
<path d="M159.4,294.0 L172.8,280.2 Q174.2,278.8 176.0,279.7 L186.5,285.4 Q188.3,286.3 189.9,287.5 L216.9,306.8 Q218.5,308.0 217.9,309.9 L212.3,328.1 Q211.7,330.0 211.3,332.0 L209.4,343.0 Q209.0,345.0 207.4,346.3 L195.0,356.4" fill="none" stroke="#d3d3d3" stroke-width="2.7" stroke-linejoin="round" stroke-linecap="butt"/>
<path d="M174.2,278.8 L175.8,274.7" fill="none" stroke="#d3d3d3" stroke-width="2.7" stroke-linejoin="round" stroke-linecap="butt"/>
<path d="M209.0,345.0 L218.3,353.3" fill="none" stroke="#d3d3d3" stroke-width="2.7" stroke-linejoin="round" stroke-linecap="butt"/>
<path d="M182.4,397.2 L201.9,413.4 Q203.4,414.7 205.4,414.4 L219.2,412.0" fill="none" stroke="#d3d3d3" stroke-width="2.7" stroke-linejoin="round" stroke-linecap="butt"/>
<path d="M203.4,414.7 L204.2,456.5" fill="none" stroke="#d3d3d3" stroke-width="2.7" stroke-linejoin="round" stroke-linecap="butt"/>
<path d="M147.2,424.8 L163.3,441.8 Q164.7,443.2 166.0,444.7 L176.7,456.5" fill="none" stroke="#d3d3d3" stroke-width="2.7" stroke-linejoin="round" stroke-linecap="butt"/>
<path d="M127.2,433.6 L128.8,456.7" fill="none" stroke="#d3d3d3" stroke-width="2.7" stroke-linejoin="round" stroke-linecap="butt"/>
<path d="M70.7,399.9 L54.9,411.6 Q53.3,412.8 51.4,412.3 L35.8,407.8" fill="none" stroke="#d3d3d3" stroke-width="2.7" stroke-linejoin="round" stroke-linecap="butt"/>
<path d="M53.3,412.8 L47.5,454.0" fill="none" stroke="#d3d3d3" stroke-width="2.7" stroke-linejoin="round" stroke-linecap="butt"/>
<path d="M104.1,432.0 L89.0,456.7" fill="none" stroke="#d3d3d3" stroke-width="2.7" stroke-linejoin="round" stroke-linecap="butt"/>
<path d="M36.7,365.8 L64.6,371.9" fill="none" stroke="#d3d3d3" stroke-width="2.7" stroke-linejoin="round" stroke-linecap="butt"/>
<path d="M84.4,335.8 L86.8,333.6 Q89.0,331.6 92.0,331.6 L100.7,331.6 Q103.1,331.6 104.8,333.2 L106.6,334.8" fill="none" stroke="#2f8f2f" stroke-width="2.88" stroke-opacity="0.65" stroke-linejoin="round" stroke-linecap="butt"/>
<path d="M106.5,334.6 L121.3,351.2" fill="none" stroke="#2f8f2f" stroke-width="2.72" stroke-opacity="0.52" stroke-linejoin="round" stroke-linecap="butt"/>
<path d="M66.7,371.4 L72.2,394.6 Q72.6,396.1 73.7,397.0 L73.7,397.0 Q74.9,398.0 76.4,398.3 L92.9,400.8" fill="none" stroke="#2f8f2f" stroke-width="2.56" stroke-opacity="0.59" stroke-linejoin="round" stroke-linecap="butt"/>
<path d="M102.7,330.1 L127.1,293.4" fill="none" stroke="#3a3aa4" stroke-width="2.40" stroke-opacity="0.59" stroke-linejoin="round" stroke-linecap="butt"/>
<path d="M165.8,336.7 L140.5,353.9" fill="none" stroke="#3a3aa4" stroke-width="2.40" stroke-opacity="0.39" stroke-linejoin="round" stroke-linecap="butt"/>
<path d="M192.8,356.1 L188.6,387.7 Q188.3,390.4 186.3,392.4 L184.3,394.5" fill="none" stroke="#962e96" stroke-width="2.72" stroke-opacity="0.59" stroke-linejoin="round" stroke-linecap="butt"/>
<path d="M161.2,396.9 L141.1,375.9" fill="none" stroke="#962e96" stroke-width="2.40" stroke-opacity="0.39" stroke-linejoin="round" stroke-linecap="butt"/>
<path d="M105.2,423.8 L107.6,425.4 Q109.9,426.9 112.5,427.6 L124.2,430.7 Q127.1,431.5 129.9,430.4 L133.3,429.0" fill="none" stroke="#962626" stroke-width="2.40" stroke-opacity="0.52" stroke-linejoin="round" stroke-linecap="butt"/>
<path d="M104.4,333.0 L126.7,297.6 Q128.8,294.2 132.8,294.1 L153.3,293.5 Q155.9,293.4 157.6,295.3 L157.7,295.3 Q159.4,297.2 159.8,299.7 L164.1,330.8 Q164.6,334.8 161.3,337.1 L139.3,352.2" fill="none" stroke="#10108a" stroke-width="2.3" stroke-linejoin="round" stroke-linecap="round"/>
<path d="M164.1,336.4 L188.9,350.1 Q191.5,351.5 193.2,353.9 L193.3,354.0 Q195.0,356.4 194.6,359.4 L190.7,388.3 Q190.3,391.4 188.2,393.7 L187.3,394.7 Q186.0,396.0 184.2,396.4 L184.2,396.4 Q182.4,396.8 180.6,396.9 L163.7,398.1 Q159.7,398.4 156.9,395.5 L139.6,377.4" fill="none" stroke="#880a88" stroke-width="2.3" stroke-linejoin="round" stroke-linecap="round"/>
<path d="M94.6,403.3 L103.0,422.9 Q104.1,425.6 106.5,427.2 L106.6,427.2 Q109.0,428.8 111.8,429.5 L124.3,432.8 Q127.2,433.6 129.9,432.4 L144.5,426.0 Q147.2,424.8 148.4,422.0 L158.3,399.3" fill="none" stroke="#8a1212" stroke-width="2.2" stroke-linejoin="round" stroke-linecap="round"/>
<path d="M119.6,352.7 L105.9,337.4 Q104.8,336.1 103.5,335.0 L103.5,334.9 Q102.2,333.8 100.5,333.8 L92.9,333.8 Q89.9,333.8 87.8,335.8 L87.7,335.9 Q85.6,337.9 84.0,340.4 L67.0,368.1 Q64.6,371.9 65.7,376.3 L70.2,395.1 Q70.7,397.2 72.3,398.6 L72.4,398.6 Q74.0,400.0 76.1,400.3 L88.2,402.3 Q92.6,403.0 95.7,399.7 L117.9,376.3" fill="none" stroke="#1e8c1e" stroke-width="2.1" stroke-linejoin="round" stroke-linecap="round"/>
<circle cx="128.8" cy="364.4" r="16" fill="#ffff70" fill-opacity="0.68" stroke="#333" stroke-width="0.75" stroke-dasharray="0.8,1.2"/>
<path d="M118.5,353.2 C124,356.5 126,358.5 127.5,361.5 C129,358.5 132,356 139,352 Q128.5,347.5 118.5,353.2Z" fill="#8a8a40" fill-opacity="0.25"/>
<path d="M118.5,376.8 C124,373 126,371 127.5,368 C129,371 132,373.5 139.3,377.2 Q128.5,382 118.5,376.8Z" fill="#d07030" fill-opacity="0.22"/>
<path d="M139.3,352.2 C132.5,356 128.7,359 128.7,364.5" fill="none" stroke="#5e5e3c" stroke-width="1.5" stroke-opacity="1" stroke-linecap="round"/>
<path d="M128.7,364.5 C128.7,370 132.5,373.5 139.6,377.4" fill="none" stroke="#c0661e" stroke-width="1.5" stroke-opacity="1" stroke-linecap="round"/>
<path d="M119.6,352.7 C124.2,356.5 126.3,359 126.3,364.5 C126.3,370 124.2,373 117.9,376.3" fill="none" stroke="#3a9a1a" stroke-width="1.8" stroke-opacity="1" stroke-linecap="round"/>
<line x1="96.5" y1="321.0" x2="96.5" y2="338.5" stroke="#111" stroke-width="0.8"/>
<polygon points="96.5,342.5 94.8,338.5 98.2,338.5" fill="#111"/>
<line x1="107.9" y1="314.7" x2="116.0" y2="324.2" stroke="#111" stroke-width="0.8"/>
<polygon points="118.6,327.2 114.7,325.3 117.3,323.1" fill="#111"/>
<line x1="77.5" y1="387.5" x2="62.7" y2="393.9" stroke="#111" stroke-width="0.8"/>
<polygon points="59.0,395.5 62.0,392.4 63.3,395.5" fill="#111"/>
<line x1="179.8" y1="361.3" x2="198.5" y2="361.5" stroke="#111" stroke-width="0.8"/>
<polygon points="202.5,361.5 198.5,363.2 198.5,359.8" fill="#111"/>
<line x1="109.7" y1="444.0" x2="119.9" y2="425.3" stroke="#111" stroke-width="0.8"/>
<polygon points="121.8,421.8 121.4,426.1 118.4,424.5" fill="#111"/>
<text x="41.7" y="299.7" font-size="13.4" fill="#222">t</text>
<text x="47.4" y="302.6" font-size="8.6" fill="#222" textLength="8.8" lengthAdjust="spacingAndGlyphs">T1</text>
<text x="62.3" y="299.7" font-size="13.4" fill="#222" textLength="59.4" lengthAdjust="spacingAndGlyphs">= -5 to 0</text>
<text x="192.9" y="301.3" font-size="21.6" fill="#222" textLength="27.5" lengthAdjust="spacingAndGlyphs">(c)</text>
<path d="M292.0,274.5 L294.6,288.0 Q295.0,290.0 294.9,292.0 L294.7,303.0 Q294.6,305.0 294.0,306.9 L290.3,318.3" fill="none" stroke="#d3d3d3" stroke-width="3.2" stroke-linejoin="round" stroke-linecap="butt"/>
<path d="M290.0,318.0 L250.0,319.7" fill="none" stroke="#d3d3d3" stroke-width="2.7" stroke-linejoin="round" stroke-linecap="butt"/>
<path d="M290.0,318.0 L301.7,332.0 Q302.5,333.0 302.9,334.2 L303.3,335.5" fill="none" stroke="#d3d3d3" stroke-width="2.7" stroke-linejoin="round" stroke-linecap="butt"/>
<path d="M330.0,274.7 L344.2,293.0" fill="none" stroke="#d3d3d3" stroke-width="2.7" stroke-linejoin="round" stroke-linecap="butt"/>
<path d="M374.0,294.5 L386.9,281.9 Q388.3,280.5 389.9,281.6 L429.2,308.6 Q430.8,309.7 430.4,311.7 L426.7,328.0 Q426.3,330.0 426.2,332.0 L424.9,348.0 Q424.8,350.0 422.9,350.7 L410.9,355.6" fill="none" stroke="#d3d3d3" stroke-width="2.7" stroke-linejoin="round" stroke-linecap="butt"/>
<path d="M388.3,280.5 L389.2,274.7" fill="none" stroke="#d3d3d3" stroke-width="2.7" stroke-linejoin="round" stroke-linecap="butt"/>
<path d="M424.8,350.0 L432.5,354.2" fill="none" stroke="#d3d3d3" stroke-width="2.7" stroke-linejoin="round" stroke-linecap="butt"/>
<path d="M397.0,398.3 L414.0,414.4 Q415.5,415.8 417.5,415.5 L432.7,413.0" fill="none" stroke="#d3d3d3" stroke-width="2.7" stroke-linejoin="round" stroke-linecap="butt"/>
<path d="M415.5,415.8 L416.7,456.5" fill="none" stroke="#d3d3d3" stroke-width="2.7" stroke-linejoin="round" stroke-linecap="butt"/>
<path d="M360.1,425.6 L378.6,445.6 Q380.0,447.1 381.2,448.7 L387.5,456.5" fill="none" stroke="#d3d3d3" stroke-width="2.7" stroke-linejoin="round" stroke-linecap="butt"/>
<path d="M343.8,433.0 L344.2,456.5" fill="none" stroke="#d3d3d3" stroke-width="2.7" stroke-linejoin="round" stroke-linecap="butt"/>
<path d="M282.5,402.0 L268.3,412.5 Q266.7,413.7 264.8,413.1 L250.0,408.7" fill="none" stroke="#d3d3d3" stroke-width="2.7" stroke-linejoin="round" stroke-linecap="butt"/>
<path d="M266.7,413.7 L260.8,456.5" fill="none" stroke="#d3d3d3" stroke-width="2.7" stroke-linejoin="round" stroke-linecap="butt"/>
<path d="M319.3,427.0 L302.2,456.0" fill="none" stroke="#d3d3d3" stroke-width="2.7" stroke-linejoin="round" stroke-linecap="butt"/>
<path d="M250.0,367.5 L277.5,373.3" fill="none" stroke="#d3d3d3" stroke-width="2.7" stroke-linejoin="round" stroke-linecap="butt"/>
<path d="M297.7,339.5 L300.4,337.2 Q302.7,335.3 305.7,335.3 L314.0,335.2 Q316.0,335.2 317.8,336.2 L319.6,337.2" fill="none" stroke="#2f8f2f" stroke-width="2.08" stroke-opacity="0.39" stroke-linejoin="round" stroke-linecap="butt"/>
<path d="M278.9,373.8 L283.3,394.2 Q283.8,396.5 285.4,398.4 L285.4,398.4 Q287.0,400.3 289.4,400.7 L308.3,403.8" fill="none" stroke="#2f8f2f" stroke-width="2.08" stroke-opacity="0.39" stroke-linejoin="round" stroke-linecap="butt"/>
<path d="M306.5,404.7 L320.5,385.0" fill="none" stroke="#2f8f2f" stroke-width="1.76" stroke-opacity="0.26" stroke-linejoin="round" stroke-linecap="butt"/>
<path d="M320.1,337.8 L331.8,352.7" fill="none" stroke="#2f8f2f" stroke-width="1.92" stroke-opacity="0.23" stroke-linejoin="round" stroke-linecap="butt"/>
<path d="M409.0,355.1 L398.8,394.1" fill="none" stroke="#962e96" stroke-width="2.08" stroke-opacity="0.26" stroke-linejoin="round" stroke-linecap="butt"/>
<path d="M320.2,423.1 L321.6,423.8 Q323.1,424.5 324.6,425.0 L340.8,430.1 Q343.7,431.0 346.4,429.7 L359.3,423.8" fill="none" stroke="#962626" stroke-width="2.24" stroke-opacity="0.39" stroke-linejoin="round" stroke-linecap="butt"/>
<path d="M318.3,336.0 L340.8,299.0 Q342.0,297.0 343.7,295.4 L343.8,295.3 Q345.5,293.7 347.9,293.7 L367.0,293.7 Q369.4,293.7 371.2,295.3 L371.2,295.4 Q373.0,297.0 373.3,299.4 L377.2,331.1 Q377.7,335.1 374.6,337.7 L354.5,354.6" fill="none" stroke="#10108a" stroke-width="2.3" stroke-linejoin="round" stroke-linecap="round"/>
<path d="M377.5,336.1 L406.0,350.8 Q408.1,351.9 409.5,353.7 L409.5,353.8 Q410.9,355.6 410.3,357.8 L401.4,392.1 Q400.7,394.6 398.9,396.4 L398.8,396.5 Q397.0,398.3 394.4,398.4 L378.7,399.0 Q374.7,399.2 372.1,396.1 L355.2,376.0" fill="none" stroke="#880a88" stroke-width="2.3" stroke-linejoin="round" stroke-linecap="round"/>
<path d="M310.1,404.8 L318.6,423.4 Q319.3,424.9 320.8,425.6 L320.8,425.7 Q322.3,426.4 323.9,426.9 L340.9,432.1 Q343.8,433.0 346.5,431.8 L357.4,426.8 Q360.1,425.6 361.4,422.9 L372.7,399.6" fill="none" stroke="#8a1212" stroke-width="2.2" stroke-linejoin="round" stroke-linecap="round"/>
<path d="M330.3,353.8 L319.7,340.3 Q318.6,338.9 317.1,338.0 L317.0,338.0 Q315.5,337.1 313.7,337.1 L306.3,337.1 Q303.4,337.1 301.2,339.0 L301.2,339.1 Q299.0,341.0 297.4,343.4 L279.5,370.4 Q277.0,374.2 278.0,378.6 L281.5,394.5 Q282.1,397.4 284.0,399.7 L284.1,399.7 Q286.0,402.0 289.0,402.5 L303.6,405.0 Q308.0,405.7 310.8,402.2 L332.2,375.1" fill="none" stroke="#1e8c1e" stroke-width="2.1" stroke-linejoin="round" stroke-linecap="round"/>
<circle cx="342.8" cy="364.2" r="16" fill="#ffff70" fill-opacity="0.68" stroke="#333" stroke-width="0.75" stroke-dasharray="0.8,1.2"/>
<path d="M330.3,353.8 Q340.5,363 341.5,364.5 L344.5,364.5 Q345.5,363 354.5,354.6 Q343,349 330.3,353.8Z" fill="#8a8a40" fill-opacity="0.22"/>
<path d="M332.2,375.1 Q340.5,367 341.5,366 L344.5,366 Q345.5,367 355.2,376 Q343,381 332.2,375.1Z" fill="#d07030" fill-opacity="0.2"/>
<path d="M341,364.6 L345,364.6" fill="none" stroke="#5e5e3c" stroke-width="1.2" stroke-opacity="1" stroke-linecap="round"/>
<path d="M341,365.9 L345,365.9" fill="none" stroke="#c0661e" stroke-width="1.2" stroke-opacity="1" stroke-linecap="round"/>
<path d="M354.5,354.6 Q345.5,363 344.8,365" fill="none" stroke="#5e5e3c" stroke-width="1.5" stroke-opacity="1" stroke-linecap="round"/>
<path d="M344.8,365 Q345.5,367.5 355.2,376" fill="none" stroke="#b0502a" stroke-width="1.4" stroke-opacity="1" stroke-linecap="round"/>
<path d="M330.3,353.8 Q340.5,363 341.3,365 Q340.5,367.5 332.2,375.1" fill="none" stroke="#3a9a1a" stroke-width="1.7" stroke-opacity="1" stroke-linecap="round"/>
<line x1="319.3" y1="319.3" x2="328.5" y2="328.7" stroke="#111" stroke-width="0.8"/>
<polygon points="331.3,331.6 327.3,329.9 329.7,327.5" fill="#111"/>
<line x1="291.7" y1="387.5" x2="269.6" y2="394.1" stroke="#111" stroke-width="0.8"/>
<polygon points="265.8,395.3 269.1,392.5 270.1,395.8" fill="#111"/>
<line x1="398.8" y1="377.3" x2="416.2" y2="381.9" stroke="#111" stroke-width="0.8"/>
<polygon points="420.1,382.9 415.8,383.5 416.7,380.2" fill="#111"/>
<line x1="328.2" y1="437.5" x2="337.5" y2="419.6" stroke="#111" stroke-width="0.8"/>
<polygon points="339.3,416.0 339.0,420.3 336.0,418.8" fill="#111"/>
<text x="266.5" y="300.5" font-size="13.4" fill="#222" textLength="69.2" lengthAdjust="spacingAndGlyphs">0 to 100%</text>
<text x="266.6" y="316.7" font-size="13.4" fill="#222">t</text>
<text x="272.4" y="319.6" font-size="8.6" fill="#222" textLength="9.0" lengthAdjust="spacingAndGlyphs">T1</text>
<text x="281.6" y="316.7" font-size="13.4" fill="#222" textLength="19.3" lengthAdjust="spacingAndGlyphs">=0</text>
<text x="403.7" y="301.3" font-size="21.6" fill="#222" textLength="28.6" lengthAdjust="spacingAndGlyphs">(d)</text>
<path d="M508.0,274.5 L510.2,288.0 Q510.5,290.0 510.4,292.0 L510.1,303.0 Q510.0,305.0 509.4,306.9 L505.3,319.0" fill="none" stroke="#d3d3d3" stroke-width="3.2" stroke-linejoin="round" stroke-linecap="butt"/>
<path d="M505.3,319.0 L464.2,318.8" fill="none" stroke="#d3d3d3" stroke-width="2.7" stroke-linejoin="round" stroke-linecap="butt"/>
<path d="M505.3,319.0 L515.4,339.4" fill="none" stroke="#d3d3d3" stroke-width="2.7" stroke-linejoin="round" stroke-linecap="butt"/>
<path d="M543.3,274.7 L558.3,293.0" fill="none" stroke="#d3d3d3" stroke-width="2.7" stroke-linejoin="round" stroke-linecap="butt"/>
<path d="M585.5,296.0 L600.1,284.3 Q601.7,283.0 603.4,284.1 L643.3,311.1 Q645.0,312.2 644.8,314.2 L643.5,328.0 Q643.3,330.0 642.9,332.0 L639.6,346.2 Q639.2,348.2 637.7,349.6 L628.1,358.4" fill="none" stroke="#d3d3d3" stroke-width="2.7" stroke-linejoin="round" stroke-linecap="butt"/>
<path d="M601.7,283.0 L602.5,274.7" fill="none" stroke="#d3d3d3" stroke-width="2.7" stroke-linejoin="round" stroke-linecap="butt"/>
<path d="M639.2,348.2 L646.7,355.8" fill="none" stroke="#d3d3d3" stroke-width="2.7" stroke-linejoin="round" stroke-linecap="butt"/>
<path d="M612.3,400.7 L626.2,416.3 Q627.5,417.8 629.5,417.5 L646.7,415.3" fill="none" stroke="#d3d3d3" stroke-width="2.7" stroke-linejoin="round" stroke-linecap="butt"/>
<path d="M627.5,417.8 L630.0,456.5" fill="none" stroke="#d3d3d3" stroke-width="2.7" stroke-linejoin="round" stroke-linecap="butt"/>
<path d="M573.6,428.6 L593.7,450.8 Q595.0,452.3 596.2,453.9 L598.0,456.5" fill="none" stroke="#d3d3d3" stroke-width="2.7" stroke-linejoin="round" stroke-linecap="butt"/>
<path d="M561.0,432.3 L560.3,456.5" fill="none" stroke="#d3d3d3" stroke-width="2.7" stroke-linejoin="round" stroke-linecap="butt"/>
<path d="M493.3,403.7 L481.6,412.5 Q480.0,413.7 478.0,413.3 L464.2,410.3" fill="none" stroke="#d3d3d3" stroke-width="2.7" stroke-linejoin="round" stroke-linecap="butt"/>
<path d="M480.0,413.7 L475.0,456.5" fill="none" stroke="#d3d3d3" stroke-width="2.7" stroke-linejoin="round" stroke-linecap="butt"/>
<path d="M532.8,425.0 L515.0,456.5" fill="none" stroke="#d3d3d3" stroke-width="2.7" stroke-linejoin="round" stroke-linecap="butt"/>
<path d="M464.2,368.3 L488.3,375.8" fill="none" stroke="#d3d3d3" stroke-width="2.7" stroke-linejoin="round" stroke-linecap="butt"/>
<path d="M509.0,342.2 L511.3,340.4 Q513.5,338.6 516.4,338.6 L528.3,338.5 Q530.6,338.5 532.7,339.5 L534.8,340.5" fill="none" stroke="#2f8f2f" stroke-width="2.88" stroke-opacity="0.65" stroke-linejoin="round" stroke-linecap="butt"/>
<path d="M535.7,341.4 L545.9,358.1" fill="none" stroke="#2f8f2f" stroke-width="2.72" stroke-opacity="0.52" stroke-linejoin="round" stroke-linecap="butt"/>
<path d="M490.6,376.5 L494.6,396.0 Q495.0,398.1 496.5,399.8 L496.5,399.8 Q498.0,401.4 500.2,401.7 L523.9,404.3" fill="none" stroke="#2f8f2f" stroke-width="2.80" stroke-opacity="0.59" stroke-linejoin="round" stroke-linecap="butt"/>
<path d="M521.8,405.5 L542.2,371.2" fill="none" stroke="#2f8f2f" stroke-width="2.40" stroke-opacity="0.45" stroke-linejoin="round" stroke-linecap="butt"/>
<path d="M559.4,293.3 L579.4,294.1 Q582.4,294.2 584.5,296.3 L586.7,298.4" fill="none" stroke="#3a3aa4" stroke-width="2.08" stroke-opacity="0.52" stroke-linejoin="round" stroke-linecap="butt"/>
<path d="M588.0,332.9 L571.3,357.9" fill="none" stroke="#3a3aa4" stroke-width="2.72" stroke-opacity="0.52" stroke-linejoin="round" stroke-linecap="butt"/>
<path d="M530.6,339.5 L554.2,298.0" fill="none" stroke="#3a3aa4" stroke-width="2.24" stroke-opacity="0.45" stroke-linejoin="round" stroke-linecap="butt"/>
<path d="M625.9,357.7 L613.8,395.7" fill="none" stroke="#962e96" stroke-width="2.80" stroke-opacity="0.59" stroke-linejoin="round" stroke-linecap="butt"/>
<path d="M614.3,395.0 L612.9,396.9 Q611.4,398.7 609.0,398.7 L586.3,398.5" fill="none" stroke="#962e96" stroke-width="2.56" stroke-opacity="0.59" stroke-linejoin="round" stroke-linecap="butt"/>
<path d="M588.3,399.8 L572.6,366.8" fill="none" stroke="#962e96" stroke-width="2.56" stroke-opacity="0.52" stroke-linejoin="round" stroke-linecap="butt"/>
<path d="M533.8,420.6 L535.5,421.5 Q537.3,422.4 539.2,423.0 L558.2,429.2 Q561.0,430.1 563.9,429.3 L573.0,426.5" fill="none" stroke="#962626" stroke-width="2.56" stroke-opacity="0.52" stroke-linejoin="round" stroke-linecap="butt"/>
<path d="M532.4,340.5 L554.8,301.2 Q556.0,299.0 557.6,297.1 L557.7,297.1 Q559.3,295.2 561.8,295.3 L579.0,295.9 Q581.6,296.0 583.4,297.9 L583.5,297.9 Q585.3,299.8 585.6,302.4 L589.4,330.2 Q589.9,334.2 587.7,337.5 L574.7,357.0 Q573.2,359.2 571.9,361.5 L570.5,363.8" fill="none" stroke="#10108a" stroke-width="2.3" stroke-linejoin="round" stroke-linecap="round"/>
<path d="M590.0,336.1 L622.5,351.5 Q625.3,352.8 626.7,355.6 L626.7,355.6 Q628.1,358.4 627.2,361.4 L616.9,393.7 Q616.0,396.4 614.2,398.5 L614.1,398.6 Q612.3,400.7 609.5,400.7 L590.3,400.7 Q586.3,400.7 584.6,397.1 L570.6,367.7" fill="none" stroke="#880a88" stroke-width="2.3" stroke-linejoin="round" stroke-linecap="round"/>
<path d="M524.5,407.2 L531.8,420.8 Q532.8,422.6 534.6,423.5 L534.7,423.5 Q536.5,424.4 538.4,425.0 L558.1,431.4 Q561.0,432.3 563.9,431.5 L570.7,429.4 Q573.6,428.6 574.8,425.9 L585.5,401.9" fill="none" stroke="#8a1212" stroke-width="2.2" stroke-linejoin="round" stroke-linecap="round"/>
<path d="M544.0,359.3 L534.9,344.3 Q533.8,342.6 532.0,341.7 L531.9,341.7 Q530.1,340.8 528.1,340.8 L516.8,340.8 Q514.3,340.8 512.4,342.4 L512.4,342.4 Q510.5,344.0 509.1,346.1 L490.8,373.3 Q488.3,377.0 489.2,381.4 L492.4,396.3 Q493.0,399.2 495.0,401.3 L495.0,401.4 Q497.0,403.5 499.9,403.8 L519.1,406.1 Q523.6,406.6 525.9,402.7 L544.0,372.3" fill="none" stroke="#1e8c1e" stroke-width="2.1" stroke-linejoin="round" stroke-linecap="round"/>
<circle cx="558.3" cy="365" r="16" fill="#ffff70" fill-opacity="0.68" stroke="#333" stroke-width="0.75" stroke-dasharray="0.8,1.2"/>
<path d="M544,361 Q546,365 550,365 L567,365 Q571,365 571,362" fill="none" stroke="#5e5e3c" stroke-width="1.7" stroke-opacity="1" stroke-linecap="round"/>
<path d="M545,369 Q546,366.4 549,366.4 M568,366.4 Q571,366.4 571,368" fill="none" stroke="#c0661e" stroke-width="1.3" stroke-opacity="1" stroke-linecap="round"/>
<path d="M540,353 L548,363.5 M540,377 L548,367" fill="none" stroke="#5a9a20" stroke-width="5" stroke-opacity="0.3" stroke-linecap="round"/>
<path d="M577,353 L569,363.5" fill="none" stroke="#5e5e3c" stroke-width="5" stroke-opacity="0.3" stroke-linecap="round"/>
<path d="M577,377 L569,367" fill="none" stroke="#b07030" stroke-width="5" stroke-opacity="0.28" stroke-linecap="round"/>
<line x1="533.3" y1="320.3" x2="544.5" y2="331.4" stroke="#111" stroke-width="0.8"/>
<polygon points="547.3,334.2 543.3,332.6 545.7,330.2" fill="#111"/>
<line x1="505.8" y1="387.0" x2="483.8" y2="393.8" stroke="#111" stroke-width="0.8"/>
<polygon points="480.0,395.0 483.3,392.2 484.3,395.4" fill="#111"/>
<line x1="511.7" y1="398.7" x2="505.2" y2="415.0" stroke="#111" stroke-width="0.8"/>
<polygon points="503.7,418.7 503.6,414.4 506.8,415.6" fill="#111"/>
<line x1="612.3" y1="377.0" x2="630.2" y2="382.3" stroke="#111" stroke-width="0.8"/>
<polygon points="634.0,383.4 629.7,383.9 630.6,380.6" fill="#111"/>
<line x1="600.0" y1="394.5" x2="602.6" y2="410.6" stroke="#111" stroke-width="0.8"/>
<polygon points="603.3,414.5 601.0,410.8 604.3,410.3" fill="#111"/>
<line x1="542.4" y1="437.5" x2="551.1" y2="419.6" stroke="#111" stroke-width="0.8"/>
<polygon points="552.8,416.0 552.6,420.3 549.5,418.9" fill="#111"/>
<text x="475.8" y="299.7" font-size="13.4" fill="#222">t</text>
<text x="481.2" y="302.6" font-size="8.6" fill="#222" textLength="9.2" lengthAdjust="spacingAndGlyphs">T1</text>
<text x="496.4" y="299.7" font-size="13.4" fill="#222" textLength="53.5" lengthAdjust="spacingAndGlyphs">= 0 to 5</text>
<text x="618.7" y="301.3" font-size="21.6" fill="#222" textLength="28.6" lengthAdjust="spacingAndGlyphs">(e)</text>
<defs><linearGradient id="fd" x1="0" y1="0" x2="0" y2="1"><stop offset="0" stop-color="#fff" stop-opacity="0.75"/><stop offset="1" stop-color="#fff" stop-opacity="0"/></linearGradient></defs>
<rect x="0" y="272" width="685" height="11" fill="url(#fd)"/>
</svg></body></html>
